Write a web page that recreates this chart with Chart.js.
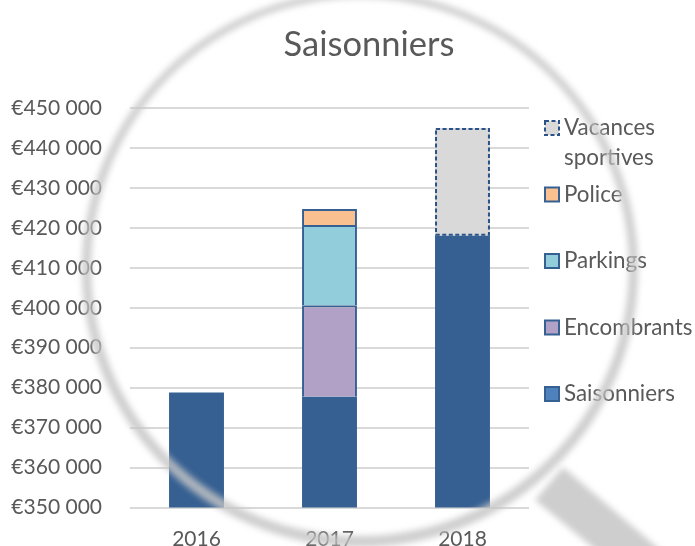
<!DOCTYPE html>
<html lang="fr">
<head>
<meta charset="utf-8">
<title>Saisonniers</title>
<style>
html,body{margin:0;padding:0;background:#fff;}
#box{position:relative;width:695px;height:546px;}
</style>
<script src="https://cdn.jsdelivr.net/npm/chart.js@4"></script>
</head>
<body>
<div id="box"><canvas id="c" width="695" height="546"></canvas></div>
<script>
const titleText = 'Saisonniers';
const years = ['2016', '2017', '2018'];
const saisonniers = [378800, 377700, 418000];
const encombrants = [null, 22900, null];
const parkings = [null, 20100, null];
const police = [null, 4000, null];
const vacancesSportives = [null, null, 27000];
const yMin = 350000, yMax = 450000, yStep = 10000;

const INK = '#595959', EDGE = '#366092', DASH = '#2a5288', FONT = 'Lato, Carlito, Calibri, sans-serif';

const datasets = [
  {label:'Saisonniers', data:saisonniers, backgroundColor:'#366092', swatch:'#4f81bd', borderWidth:0},
  {label:'Encombrants', data:encombrants, backgroundColor:'#b2a1c7', swatch:'#b2a1c7', borderColor:EDGE, borderWidth:{top:2,left:2,right:2,bottom:0}, borderSkipped:false},
  {label:'Parkings', data:parkings, backgroundColor:'#92cddc', swatch:'#92cddc', borderColor:EDGE, borderWidth:{top:2,left:2,right:2,bottom:0}, borderSkipped:false},
  {label:'Police', data:police, backgroundColor:'#fac090', swatch:'#fac090', borderColor:EDGE, borderWidth:{top:2,left:2,right:2,bottom:0}, borderSkipped:false},
  {label:'Vacances sportives', data:vacancesSportives, backgroundColor:'#d9d9d9', swatch:'#d9d9d9', borderWidth:0, dashed:true}
];

const decor = {
  id:'decor',
  afterLayout(chart){
    // the original title is centred at x=369, not on the plot
    const t = chart.titleBlock;
    if (t){ const shift = 369-(t.left+t.right)/2; t.left += shift; t.right += shift; }
  },
  afterDatasetsDraw(chart){
    const ctx = chart.ctx;
    chart.data.datasets.forEach((ds,i)=>{
      if(!ds.dashed) return;
      chart.getDatasetMeta(i).data.forEach((bar,j)=>{
        if(ds.data[j]==null) return;
        const p = bar.getProps(['x','y','base','width'], true);
        ctx.save();
        ctx.strokeStyle = DASH; ctx.lineWidth = 2; ctx.setLineDash([4,2.5]);
        ctx.strokeRect(p.x-p.width/2+1, p.y+1, p.width-2, p.base-p.y-2);
        ctx.restore();
      });
    });
  },
  afterDraw(chart){
    const ctx = chart.ctx;
    // legend, top row first
    const rows = [...chart.data.datasets].reverse();
    ctx.save();
    ctx.font = '22.4px '+FONT; ctx.textBaseline='middle'; ctx.textAlign='left';
    rows.forEach((ds,i)=>{
      const y = 128 + 66.5*i;
      ctx.fillStyle = ds.swatch; ctx.fillRect(545,y-7,14,14);
      ctx.strokeStyle = ds.dashed?DASH:EDGE; ctx.lineWidth = 2;
      ctx.setLineDash(ds.dashed?[4,2.5]:[]);
      ctx.strokeRect(545,y-7,14,14);
      ctx.setLineDash([]);
      ctx.fillStyle = INK;
      ds.label.split(' ').forEach((w,k)=>ctx.fillText(w,564,y+k*30));
    });
    ctx.restore();
    // magnifying-glass overlay
    ctx.save();
    ctx.filter='blur(3px)';
    ctx.fillStyle='rgba(198,198,198,.85)';
    ctx.beginPath();
    ctx.arc(360,269,278,0,Math.PI*2);
    ctx.moveTo(360+269,267);
    ctx.arc(360,267,269,0,Math.PI*2);
    ctx.fill('evenodd');
    ctx.beginPath();
    ctx.moveTo(563,467);ctx.lineTo(672,560);ctx.lineTo(608,560);ctx.lineTo(535,500);
    ctx.closePath();ctx.fill();
    ctx.restore();
  }
};

new Chart(document.getElementById('c'),{
  type:'bar',
  data:{labels:years,datasets},
  plugins:[decor],
  options:{
    responsive:false,
    animation:false,
    layout:{padding:{left:0,right:166,top:0,bottom:0}},
    datasets:{bar:{barPercentage:.413,categoryPercentage:1}},
    plugins:{
      legend:{display:false},
      tooltip:{enabled:false},
      title:{display:true,text:titleText,color:INK,
        font:{family:FONT,size:34.5,weight:'normal',lineHeight:1.2},
        padding:{top:24,bottom:42.6}}
    },
    scales:{
      x:{stacked:true,
        grid:{display:false,drawTicks:false},border:{display:false},
        ticks:{color:INK,font:{family:FONT,size:21},padding:19,maxRotation:0},
        afterFit(a){a.height=38.5;}},
      y:{stacked:true,min:yMin,max:yMax,
        grid:{color:'#d9d9d9',lineWidth:2,drawTicks:false},border:{display:false},
        ticks:{stepSize:yStep,color:INK,font:{family:FONT,size:21},padding:28,
          callback:v=>'€'+String(v).replace(/(\d{3})$/,' $1')},
        afterFit(a){a.width=130;a.paddingTop=0;a.paddingBottom=0;}}
    }
  }
});
</script>
</body>
</html>
